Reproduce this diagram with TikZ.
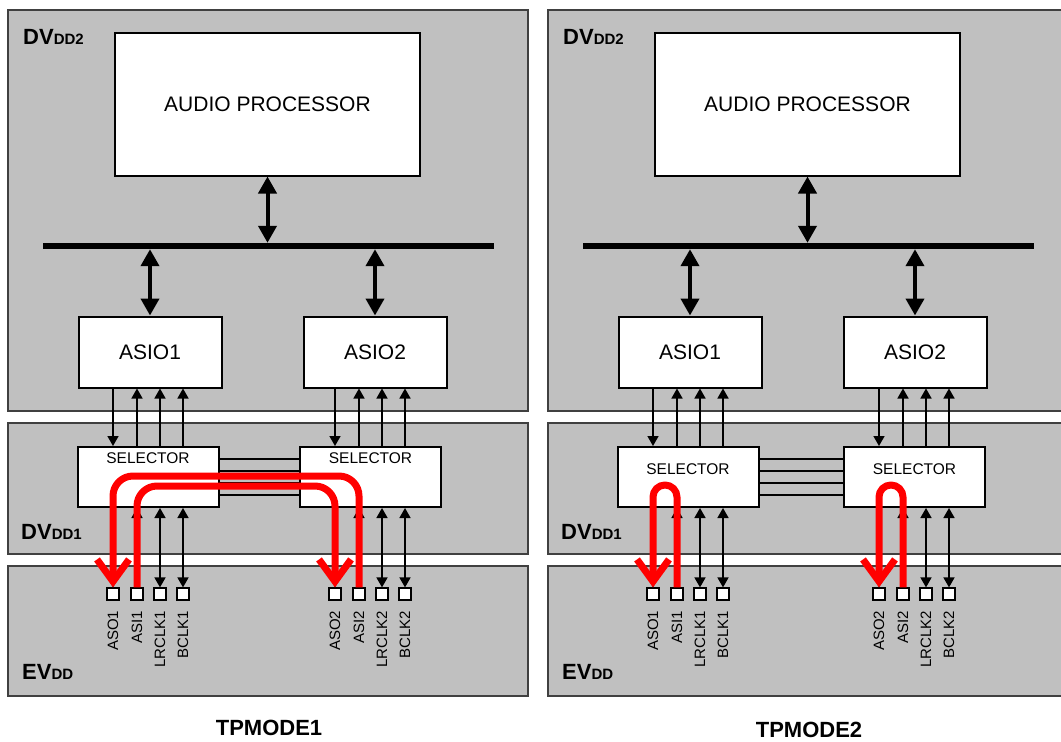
\documentclass[tikz,border=0pt]{standalone}
\usepackage{fontspec}
\setmainfont{Liberation Sans}
\usetikzlibrary{arrows.meta,positioning,calc}
\definecolor{panelgrey}{HTML}{C0C0C0}
\definecolor{edgegrey}{HTML}{404040}
\definecolor{loopred}{HTML}{FF0000}

\begin{document}
\begin{tikzpicture}[x=1pt, y=-1pt,
    every node/.style={font=\fontsize{15}{18}\selectfont},
    panel/.style={fill=panelgrey, draw=edgegrey, line width=1.5pt},
    railname/.style={font=\bfseries\fontsize{22}{24}\selectfont, anchor=base west, inner sep=0pt},
    blockbox/.style={rectangle, draw=black, fill=white, line width=2pt, font=\fontsize{21}{24}\selectfont},
    selbox/.style={rectangle, draw=black, fill=white, line width=2pt, minimum width=141pt, minimum height=60pt},
    busbar/.style={rectangle, fill=black, minimum height=6pt, minimum width=451pt, inner sep=0pt},
    pinbox/.style={rectangle, draw=black, fill=white, line width=1.2pt, minimum size=12pt, inner sep=0pt},
    pinname/.style={rotate=90, anchor=east, inner sep=0pt},
    busarrow/.style={line width=4pt, {Triangle[length=17pt,width=18pt]}-{Triangle[length=17pt,width=18pt]}},
    sig/.style={line width=1.6pt, -{Triangle[length=10pt,width=11pt]}},
    sigboth/.style={line width=1.6pt, {Triangle[length=10pt,width=11pt]}-{Triangle[length=10pt,width=11pt]}},
    redloop/.style={line width=7pt, draw=loopred, line join=round, -{Straight Barb[length=22pt,width=32pt]}},
    modename/.style={font=\bfseries\fontsize{22}{24}\selectfont},
]
\useasboundingbox (0,0) rectangle (1061,742);

% Two mode panels, same layout
\foreach \px/\qx/\m/\ty in {0/0/1/6, 540/544/2/17} {
    % Supply domains
    \draw[panel] (\px+8,10) rectangle (\px+528,411);
    \draw[panel] (\px+8,423) rectangle (\px+528,554);
    \draw[panel] (\px+8,566) rectangle (\px+528,696);
    \node[railname] (dvddtwo\m) at (\px+23,44) {DV{\fontsize{15}{18}\selectfont DD2}};
    \node[railname] (dvddone\m) at (\px+21,539) {DV{\fontsize{15}{18}\selectfont DD1}};
    \node[railname] (evdd\m) at (\px+22,679) {EV{\fontsize{15}{18}\selectfont DD}};

    % Processor and bus
    \node[blockbox, minimum width=305pt, minimum height=143pt] (proc\m) at (\px+267.5,104) {AUDIO PROCESSOR};
    \node[busbar] (bus\m) at (\px+268.5,246) {};
    \draw[busarrow] (proc\m.south) -- (proc\m.south |- bus\m.north);

    \foreach \g/\ax/\sx/\pin in {1/150/148/113, 2/375/370.5/335} {
        \pgfmathsetmacro\ox{ifthenelse(\g==1,\px,\qx)}
        \node[blockbox, minimum width=143pt, minimum height=71pt] (asio\m-\g) at (\px+\ax,352) {ASIO\g};
        \draw[busarrow] (bus\m.south -| asio\m-\g) -- (asio\m-\g.north);
        \node[selbox, label={[font=\fontsize{15.5}{18}\selectfont, inner sep=0pt, anchor=north, yshift=-\ty]north:SELECTOR}] (sel\m-\g) at (\ox+\sx,477) {};

        % Pins
        \foreach \k/\d/\s in {1/0/ASO, 2/24/ASI, 3/47/LRCLK, 4/70/BCLK} {
            \node[pinbox] (pin\m-\g-\k) at (\ox+\pin+\d,594) {};
            \node[pinname] (pinname\m-\g-\k) at ([yshift=-10pt]pin\m-\g-\k.south) {\s\g};
        }

        % Signals
        \draw[sig] (asio\m-\g.south -| pin\m-\g-1) -- (sel\m-\g.north -| pin\m-\g-1);
        \foreach \k in {2,3,4}
            \draw[sig] (sel\m-\g.north -| pin\m-\g-\k) -- (asio\m-\g.south -| pin\m-\g-\k);
        \draw[sig] (pin\m-\g-1 |- sel\m-\g.south) -- (pin\m-\g-1.north);
        \draw[sig] (pin\m-\g-2.north) -- (pin\m-\g-2 |- sel\m-\g.south);
        \foreach \k in {3,4}
            \draw[sigboth] (pin\m-\g-\k |- sel\m-\g.south) -- (pin\m-\g-\k.north);
    }

    % Links between selectors
    \foreach \yy in {459,471,483,495}
        \draw[line width=1.6pt] (sel\m-1.east |- 0,\yy) -- (sel\m-2.west |- 0,\yy);
}

% TPMODE1: crossed paths
\draw[redloop, rounded corners=20pt] (pin1-2-2.north) -- (pin1-2-2 |- 0,476) -- (pin1-1-1 |- 0,476) -- (pin1-1-1.north);
\draw[redloop, rounded corners=20pt] (pin1-1-2.north) -- (pin1-1-2 |- 0,486) -- (pin1-2-1 |- 0,486) -- (pin1-2-1.north);

% TPMODE2: loop back
\foreach \g in {1,2}
    \draw[redloop, rounded corners=12pt] (pin2-\g-2.north) -- (pin2-\g-2 |- 0,485) -- (pin2-\g-1 |- 0,485) -- (pin2-\g-1.north);

\node[modename] (mode1) at (269,728) {TPMODE1};
\node[modename] (mode2) at (809,730) {TPMODE2};

\end{tikzpicture}
\end{document}
